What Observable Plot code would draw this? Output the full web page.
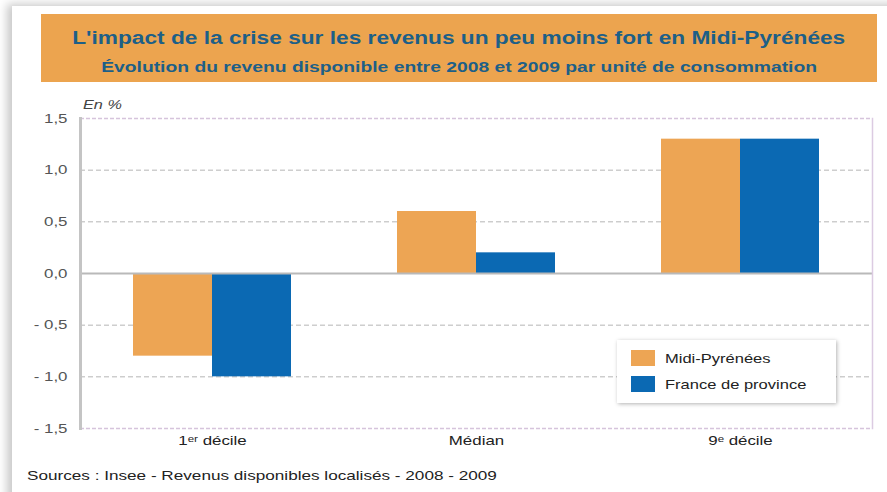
<!DOCTYPE html>
<html>
<head>
<meta charset="utf-8">
<script src="https://cdn.jsdelivr.net/npm/d3@7"></script>
<script src="https://cdn.jsdelivr.net/npm/@observablehq/plot@0.6"></script>
<style>
  body { margin: 0; background: #fff; font-family: "Liberation Sans", Arial, sans-serif; }
  #page { position: relative; width: 887px; height: 492px; overflow: hidden; background: #fff; }
  #card { position: absolute; left: 12px; top: 6px; width: 900px; height: 500px; background: #fff;
          box-shadow: -5px -2px 9px rgba(0,0,0,0.22); }
  #titlebox { position: absolute; left: 41px; top: 14px; width: 836px; height: 68px; background: #eca44f;
              text-align: center; color: #1d5f87; font-weight: bold; }
  .st { display: inline-block; white-space: nowrap; transform-origin: center; }
  #title { font-size: 18px; margin-top: 14px; transform: scaleX(1.26); }
  #subtitle { font-size: 14.5px; margin-top: 10px; transform: scaleX(1.33); }
  #unit { position: absolute; left: 83px; top: 98px; font-size: 12.5px; font-style: italic; color: #444;
          transform: scaleX(1.3); transform-origin: left; }
  #chart { position: absolute; left: 0; top: 90px; }
  #legend { position: absolute; left: 617px; top: 340px; width: 219px; height: 63px; background: #fff;
            box-shadow: 1px 1px 4px rgba(0,0,0,0.3); font-size: 13px; color: #222; }
  .li { position: absolute; left: 14px; display: flex; align-items: center; }
  .sw { width: 24px; height: 16px; margin-right: 10px; }
  .lt { display: inline-block; transform: scaleX(1.27); transform-origin: left; white-space: nowrap; }
  #source { position: absolute; left: 27px; top: 468px; font-size: 13.5px; color: #222;
            transform: scaleX(1.27); transform-origin: left; white-space: nowrap; }
</style>
</head>
<body>
<div id="page">
  <div id="card"></div>
  <div id="titlebox">
    <div><span id="title" class="st">L'impact de la crise sur les revenus un peu moins fort en Midi-Pyrénées</span></div>
    <div><span id="subtitle" class="st">Évolution du revenu disponible entre 2008 et 2009 par unité de consommation</span></div>
  </div>
  <div id="unit">En %</div>
  <div id="chart"></div>
  <div id="legend"></div>
  <div id="source">Sources : Insee - Revenus disponibles localisés - 2008 - 2009</div>
</div>
<script>
const groups = ["1ᵉʳ décile", "Médian", "9ᵉ décile"];
const series = ["Midi-Pyrénées", "France de province"];
const midiPyrenees = [-0.8, 0.6, 1.3];
const franceProvince = [-1.0, 0.2, 1.3];
const colors = ["#eda554", "#0b69b3"];
const yTicks = [-1.5, -1.0, -0.5, 0, 0.5, 1.0, 1.5];
const gridValues = [-1.0, -0.5, 0.5, 1.0];

const data = [];
groups.forEach((g, i) => {
  data.push({group: g, serie: series[0], value: midiPyrenees[i]});
  data.push({group: g, serie: series[1], value: franceProvince[i]});
});

const fmt = v => {
  const s = Math.abs(v).toFixed(1).replace(".", ",");
  return v < 0 ? "- " + s : s;
};

const chart = Plot.plot({
  width: 887,
  height: 370,
  marginLeft: 79,
  marginRight: 14,
  marginTop: 28,
  marginBottom: 32,
  style: {fontFamily: "Liberation Sans, Arial, sans-serif", fontSize: "13px", background: "transparent"},
  fx: {domain: groups, padding: 0, label: null},
  x: {domain: series, paddingInner: 0, paddingOuter: 0.654, axis: null},
  y: {domain: [-1.5, 1.5], label: null},
  color: {domain: series, range: colors},
  marks: [
    Plot.ruleY(gridValues, {stroke: "#b5b5b5", strokeDasharray: "5,3", strokeWidth: 1}),
    Plot.barY(data, {fx: "group", x: "serie", y: "value", fill: "serie"}),
    Plot.ruleY([0], {stroke: "#b9b9b9", strokeWidth: 2}),
    Plot.ruleY([1.5, -1.5], {stroke: "#d6c4dc", strokeDasharray: "4,2", strokeWidth: 1.5}),
    Plot.frame({facet: "super", anchor: "left", stroke: "#c4c4c4", strokeWidth: 3}),
    Plot.frame({facet: "super", anchor: "right", stroke: "#dccbe2", strokeWidth: 1.5}),
    Plot.axisY({ticks: yTicks, tickFormat: fmt, tickSize: 0, tickPadding: 13, fill: "#555", fontSize: 13}),
    Plot.axisFx({anchor: "bottom", tickSize: 0, tickPadding: 7, fill: "#222", fontSize: 13, label: null})
  ]
});
document.getElementById("chart").appendChild(chart);

// Stretch SVG texts horizontally like the reference
chart.querySelectorAll("text").forEach(t => {
  const tr = t.getAttribute("transform") || "";
  const x = t.getAttribute("x");
  if (x != null && x !== "0") {
    t.setAttribute("transform", `${tr} translate(${x},0) scale(1.3,1) translate(${-x},0)`);
  } else {
    t.setAttribute("transform", `${tr} scale(1.3,1)`);
  }
});

const legend = document.getElementById("legend");
series.forEach((s, i) => {
  const item = document.createElement("div");
  item.className = "li";
  item.style.top = (10 + i * 26) + "px";
  const sw = document.createElement("div");
  sw.className = "sw";
  sw.style.background = colors[i];
  const tx = document.createElement("span");
  tx.className = "lt";
  tx.textContent = s;
  item.appendChild(sw);
  item.appendChild(tx);
  legend.appendChild(item);
});
</script>
</body>
</html>
